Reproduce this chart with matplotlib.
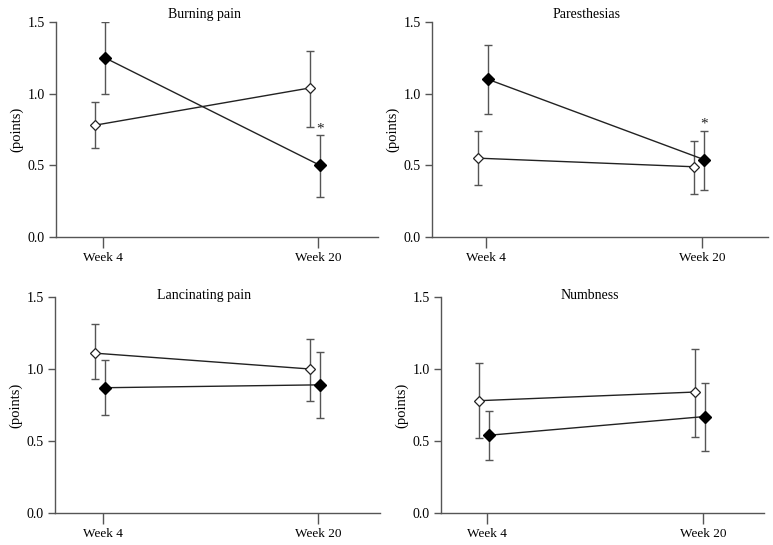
import matplotlib.pyplot as plt
import numpy as np

plt.rcParams['font.family'] = ['Liberation Serif', 'DejaVu Serif']

weeks = ['Week 4', 'Week 20']
titles = ['Burning pain', 'Paresthesias', 'Lancinating pain', 'Numbness']

# open diamonds
open_mean = [[0.78, 1.04], [0.55, 0.49], [1.11, 1.00], [0.78, 0.84]]
open_lo = [[0.62, 0.77], [0.36, 0.30], [0.93, 0.78], [0.52, 0.53]]
open_hi = [[0.94, 1.30], [0.74, 0.67], [1.31, 1.21], [1.04, 1.14]]

# filled diamonds
fill_mean = [[1.25, 0.50], [1.10, 0.54], [0.87, 0.89], [0.54, 0.67]]
fill_lo = [[1.00, 0.28], [0.86, 0.33], [0.68, 0.66], [0.37, 0.43]]
fill_hi = [[1.50, 0.71], [1.34, 0.74], [1.06, 1.12], [0.71, 0.90]]

# asterisk on filled week 20
star = [True, True, False, False]

# axes layout in pixels: left, right, top, bottom, tick week4, tick week20
W, H = 773, 545
boxes = [(56, 378, 22, 237, 103, 318),
         (432, 768, 22, 237, 486, 702),
         (55, 380, 297, 513, 103, 318),
         (441, 764, 297, 513, 487, 703)]

fig = plt.figure(figsize=(W / 100, H / 100), dpi=100)
col = '#222222'
ecol = '#555555'

for i in range(4):
    l, r, t, b, t0, t1 = boxes[i]
    ax = fig.add_axes([l / W, 1 - b / H, (r - l) / W, (b - t) / H])
    sp = t1 - t0
    ax.set_xlim((l - t0) / sp, (r - t0) / sp)
    ax.set_ylim(0, 1.5)
    x = np.arange(2)
    xo = x - 8 / sp
    xf = x + 2 / sp

    om = np.array(open_mean[i])
    fm = np.array(fill_mean[i])
    oerr = [om - np.array(open_lo[i]), np.array(open_hi[i]) - om]
    ferr = [fm - np.array(fill_lo[i]), np.array(fill_hi[i]) - fm]

    ax.errorbar(xo, om, yerr=oerr, fmt='none', ecolor=ecol, elinewidth=1,
                capsize=3, capthick=1, zorder=2)
    ax.errorbar(xf, fm, yerr=ferr, fmt='none', ecolor=ecol, elinewidth=1,
                capsize=3, capthick=1, zorder=2)
    ax.plot(xo, om, color=col, lw=1, marker='D', ms=5, mfc='white',
            mec=col, mew=0.9, zorder=3)
    ax.plot(xf, fm, color=col, lw=1, marker='D', ms=6, mfc='black',
            mec='black', zorder=3)

    if star[i]:
        ax.text(xf[1], fill_hi[i][1] + 0.045, '*', ha='center', va='center',
                fontsize=11, color=col)

    ax.set_xticks(x)
    ax.set_xticklabels(weeks)
    ax.set_yticks([0, 0.5, 1.0, 1.5])
    ax.set_yticklabels(['0.0', '0.5', '1.0', '1.5'])
    ax.tick_params(axis='x', length=8, width=1, color=ecol, labelsize=9.5, pad=3)
    ax.tick_params(axis='y', length=5, width=1, color=ecol, labelsize=10, pad=3)
    for s in ['top', 'right']:
        ax.spines[s].set_visible(False)
    for s in ['left', 'bottom']:
        ax.spines[s].set_color(ecol)
        ax.spines[s].set_linewidth(1)
    ax.set_ylabel('(points)', fontsize=10.5, labelpad=3)

    if i < 2:
        ax.text(0.46, 1.035, titles[i], transform=ax.transAxes, ha='center',
                va='center', fontsize=10)
    else:
        ax.text(0.46, 1.005, titles[i], transform=ax.transAxes, ha='center',
                va='center', fontsize=10)

fig.savefig('out.png', dpi=100)
